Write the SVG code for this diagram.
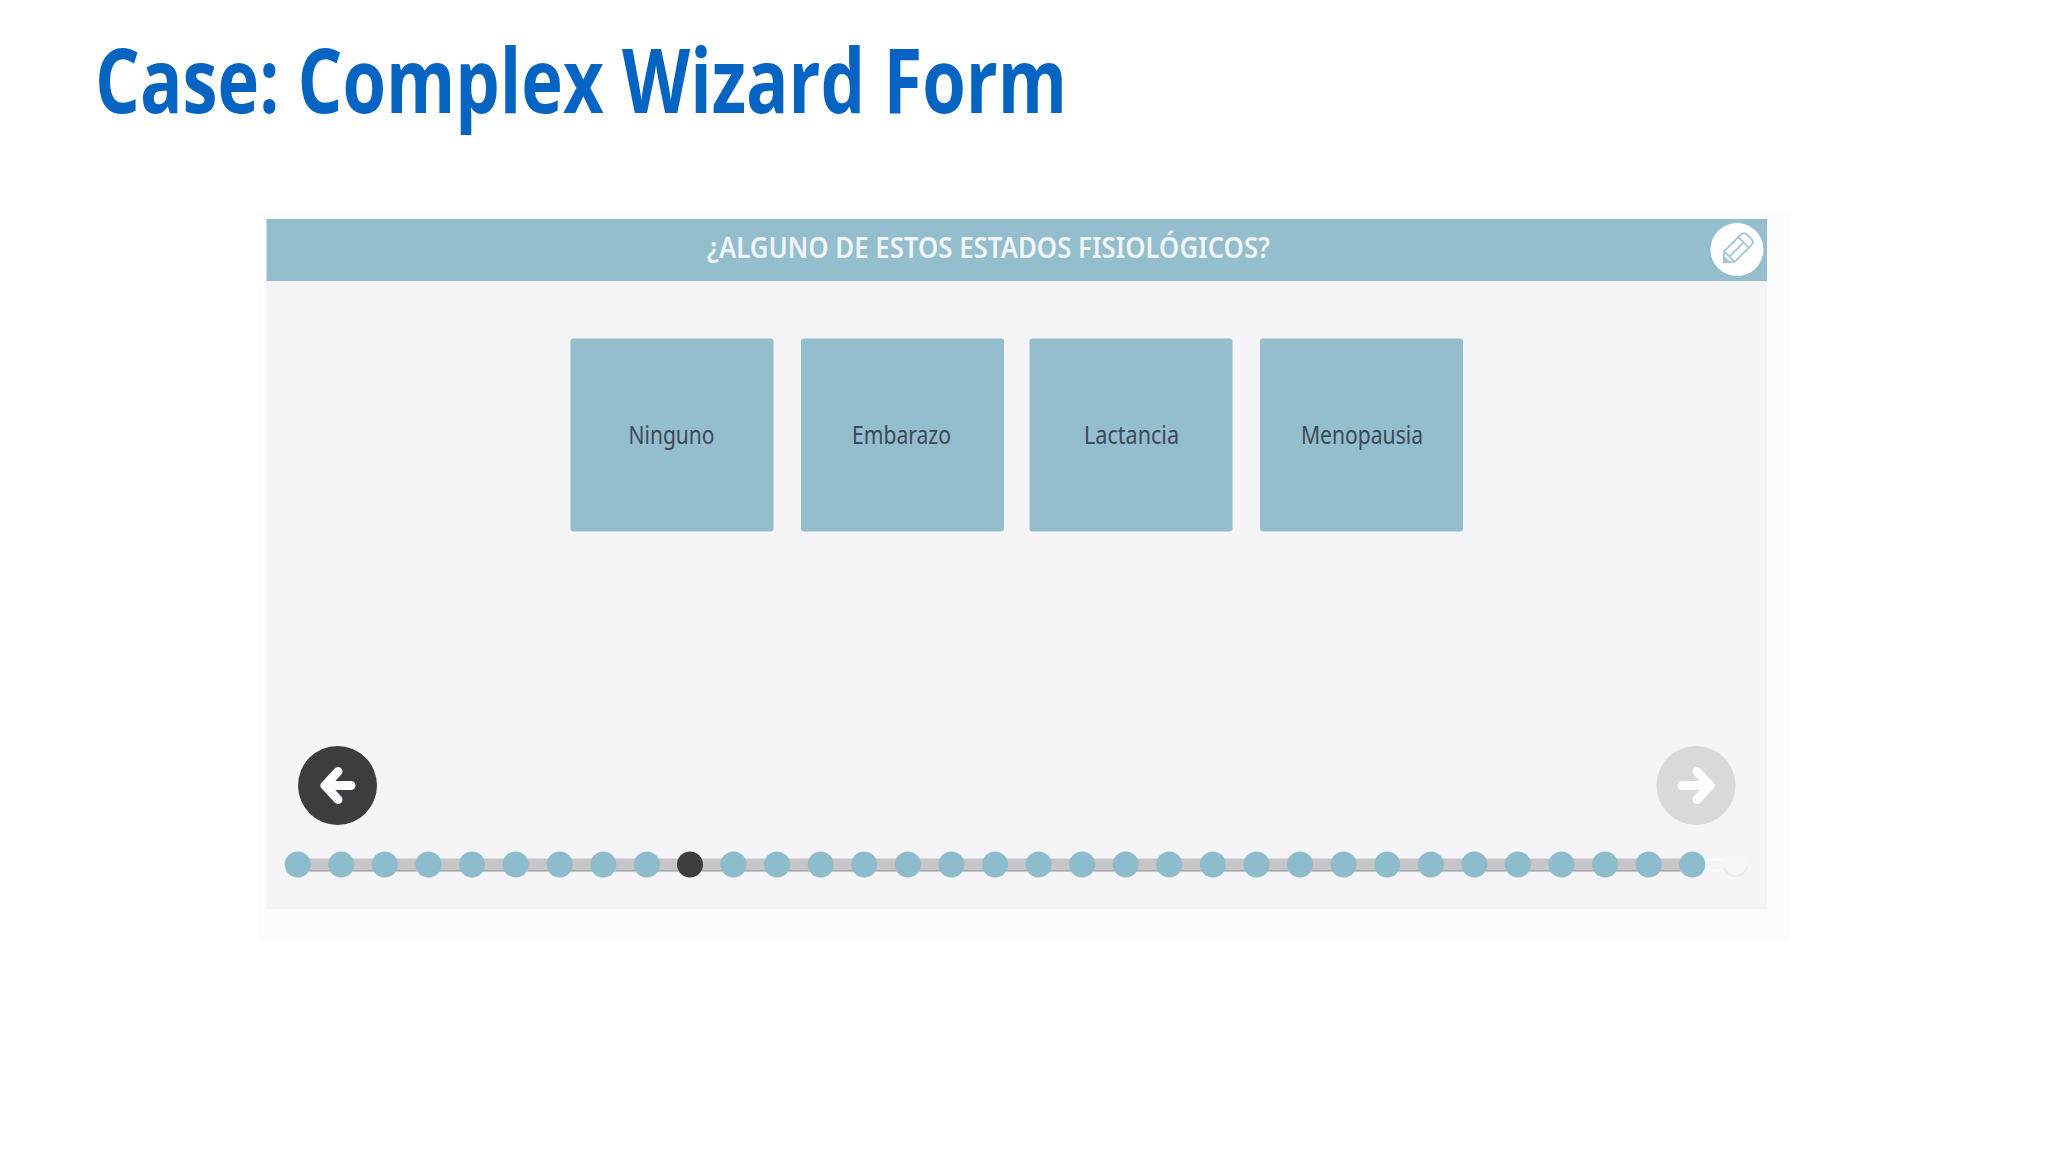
<svg xmlns="http://www.w3.org/2000/svg" width="2048" height="1152" viewBox="0 0 2048 1152">
<style>
.ui{font-family:"Noto Sans","Open Sans","Liberation Sans",sans-serif}
.card{fill:#94bdcd}
.lbl{font-size:25px;fill:#3c4a55}
.dot{fill:#8dbccd}
.arrow{fill:none;stroke:#fff;stroke-width:9;stroke-linecap:round;stroke-linejoin:round}
</style>
<rect width="2048" height="1152" fill="#fefefe"/>
<text id="title" x="95" y="113" font-family="'Open Sans','Noto Sans',sans-serif" font-weight="700" font-size="90" fill="#0563c1" textLength="972" lengthAdjust="spacingAndGlyphs">Case: Complex Wizard Form</text>
<rect x="258" y="213" width="1532" height="728" fill="#fcfbfd"/>
<rect x="266.500" y="219" width="1500.500" height="690" fill="#f5f4f7"/>
<g id="header">
<rect x="266.500" y="219" width="1500.500" height="62" fill="#94bdcd"/>
<text class="ui" x="707" y="258" font-size="28" font-weight="600" fill="#f0f5f7" textLength="563" lengthAdjust="spacingAndGlyphs">¿ALGUNO DE ESTOS ESTADOS FISIOLÓGICOS?</text>
</g>
<g id="edit">
<circle cx="1737" cy="249.500" r="26.500" fill="#fff"/>
<g transform="translate(1736.500 249.500) rotate(-45)" fill="none" stroke="#a3c6d3" stroke-width="1.800" stroke-linejoin="round">
<path d="M-18 0L-10 -7.500H13Q18 -7.500 18 -3V3Q18 7.500 13 7.500H-10Z"/>
<path d="M-10 -7.500V7.500M10 -7.500V7.500M-10 0H10"/>
<path d="M-18 0L-14 -3.500V3.500Z" fill="#a3c6d3"/>
</g>
</g>
<g id="card-ninguno"><rect class="card" x="570.500" y="338.500" width="203" height="193" rx="3"/><text class="ui lbl" x="628.500" y="443.500" textLength="86" lengthAdjust="spacingAndGlyphs">Ninguno</text></g>
<g id="card-embarazo"><rect class="card" x="801" y="338.500" width="203" height="193" rx="3"/><text class="ui lbl" x="852" y="443.500" textLength="99" lengthAdjust="spacingAndGlyphs">Embarazo</text></g>
<g id="card-lactancia"><rect class="card" x="1029.500" y="338.500" width="203" height="193" rx="3"/><text class="ui lbl" x="1084" y="443.500" textLength="95" lengthAdjust="spacingAndGlyphs">Lactancia</text></g>
<g id="card-menopausia"><rect class="card" x="1260" y="338.500" width="203" height="193" rx="3"/><text class="ui lbl" x="1301" y="443.500" textLength="122" lengthAdjust="spacingAndGlyphs">Menopausia</text></g>
<g id="back">
<circle cx="337.500" cy="785.500" r="39.500" fill="#3e3c40"/>
<path class="arrow" d="M351 785.500H326M338 771.500L325 785.500L338 799.500"/>
</g>
<g id="next">
<circle cx="1696" cy="785.500" r="39.500" fill="#d9d8db"/>
<path class="arrow" d="M1682 785.500H1707M1697 771.500L1710 785.500L1697 799.500"/>
</g>
<g id="progress">
<rect x="298" y="858.500" width="1394" height="13" fill="#c6c5c7"/>
<rect x="298" y="870" width="1394" height="1.500" fill="#adacae"/>
<path d="M1705 859.500H1722Q1725 859.500 1725 862.500M1706 870.500H1720" fill="none" stroke="#fbfbfc" stroke-width="2"/>
<circle cx="1736" cy="864.500" r="12" fill="#f6f5f8"/>
<path d="M1724 867.500A12 12 0 0 0 1747 867.500" fill="none" stroke="#e8e8ea" stroke-width="1.500"/>
<g class="dot" transform="translate(0 .5)">
<circle cx="297.700" cy="864" r="13"/><circle cx="341.300" cy="864" r="13"/><circle cx="384.900" cy="864" r="13"/><circle cx="428.400" cy="864" r="13"/><circle cx="472" cy="864" r="13"/><circle cx="515.600" cy="864" r="13"/><circle cx="559.700" cy="864" r="13"/><circle cx="603.300" cy="864" r="13"/><circle cx="646.800" cy="864" r="13"/>
<circle cx="733.500" cy="864" r="13"/><circle cx="777.100" cy="864" r="13"/><circle cx="820.700" cy="864" r="13"/><circle cx="864.200" cy="864" r="13"/><circle cx="907.800" cy="864" r="13"/><circle cx="951.400" cy="864" r="13"/><circle cx="995" cy="864" r="13"/><circle cx="1038.600" cy="864" r="13"/><circle cx="1082.100" cy="864" r="13"/><circle cx="1125.700" cy="864" r="13"/><circle cx="1169.300" cy="864" r="13"/><circle cx="1212.900" cy="864" r="13"/><circle cx="1256.500" cy="864" r="13"/><circle cx="1300" cy="864" r="13"/><circle cx="1343.600" cy="864" r="13"/><circle cx="1387.200" cy="864" r="13"/><circle cx="1430.800" cy="864" r="13"/><circle cx="1474.400" cy="864" r="13"/><circle cx="1517.900" cy="864" r="13"/><circle cx="1561.500" cy="864" r="13"/><circle cx="1605.100" cy="864" r="13"/><circle cx="1648.700" cy="864" r="13"/><circle cx="1692.300" cy="864" r="13"/>
</g>
<circle cx="690" cy="864.500" r="13" fill="#3e3c40"/>
</g>
</svg>
